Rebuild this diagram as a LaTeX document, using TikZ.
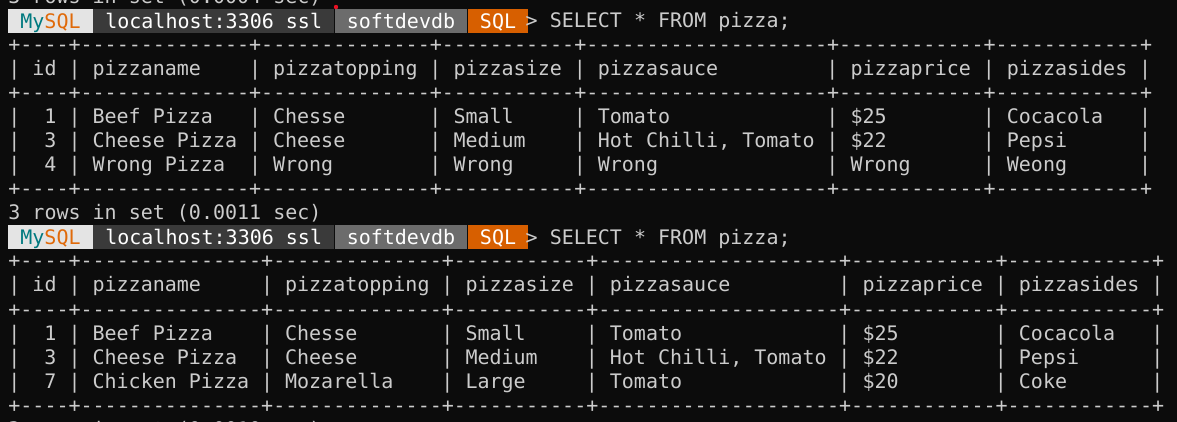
\documentclass[tikz,border=0pt]{standalone}
\usepackage{fontspec}
\setmonofont{DejaVu Sans Mono}
\usepackage{xcolor}
\usepackage{tikz}
\usetikzlibrary{positioning}
\definecolor{termbg}{HTML}{0C0C0C}
\definecolor{termfg}{HTML}{CCCCCC}
\definecolor{mysqlteal}{HTML}{00797F}
\definecolor{mysqlorange}{HTML}{E06A0A}
\definecolor{seglight}{HTML}{E4E4E4}
\definecolor{segdark}{HTML}{3A3A3A}
\definecolor{segmid}{HTML}{6C6C6C}
\definecolor{segorange}{HTML}{D75F00}
\definecolor{cursorred}{HTML}{E81123}
\newcommand{\dashrun}[1]{\foreach \i in {1,...,#1}{-}}

\begin{document}
\begin{tikzpicture}[
    x=0.5pt, y=-0.5pt,
    txt/.style={font=\ttfamily\fontsize{10pt}{12pt}\selectfont, text=termfg, inner sep=0pt, anchor=base west},
    seg/.style={font=\ttfamily\fontsize{10pt}{12pt}\selectfont, fill=#1, text=white, inner sep=0pt, text height=9.5pt, text depth=2.5pt, anchor=north west}
]
\useasboundingbox (0,0) rectangle (1177,422);
\clip (0,0) rectangle (1177,422);
\fill[termbg] (0,0) rectangle (1177,422);

% Previous result (cut off at the top)
\node[txt] (prevrows) at (8,4) {3 rows in set (0.0004 sec)};
\node[circle, fill=cursorred, inner sep=0pt, minimum size=2.2pt] (cursordot) at (336,7) {};

% First prompt
\node[seg=seglight, minimum width=42.1pt] (mysqlA) at (8,9) {{\color{mysqlteal}My}{\color{mysqlorange}SQL}};
\node[seg=segdark, minimum width=120.3pt, right=0pt of mysqlA] (hostA) {localhost:3306 ssl};
\node[seg=segmid, minimum width=66.17pt, right=0pt of hostA] (dbA) {softdevdb};
\node[seg=segorange, minimum width=30.08pt, right=0pt of dbA] (modeA) {SQL};
\node[txt] (queryA) at (525.3,28) {> SELECT * FROM pizza;};

% First table
\node[txt] (topA) at (8,52) {+\dashrun{4}+\dashrun{14}+\dashrun{14}+\dashrun{11}+\dashrun{20}+\dashrun{12}+\dashrun{12}+};
\node[txt] (midA) at (8,100) {+\dashrun{4}+\dashrun{14}+\dashrun{14}+\dashrun{11}+\dashrun{20}+\dashrun{12}+\dashrun{12}+};
\node[txt] (botA) at (8,196) {+\dashrun{4}+\dashrun{14}+\dashrun{14}+\dashrun{11}+\dashrun{20}+\dashrun{12}+\dashrun{12}+};
\foreach \c in {0,5,20,35,47,68,81,94}
  \foreach \l in {3,5,6,7}
    \node[txt] (barA-\l-\c) at ({8+\c*12.03},{4+24*\l}) {|};
\foreach \c/\t [count=\k] in {2/id,7/pizzaname,22/pizzatopping,37/pizzasize,49/pizzasauce,70/pizzaprice,83/pizzasides}
  \node[txt] (headA-\k) at ({8+\c*12.03},76) {\t};
\foreach \l/\id/\nm/\tp/\sz/\sc/\pr/\sd in {5/1/Beef Pizza/Chesse/Small/Tomato/\$25/Cocacola,
    {6/3/Cheese Pizza/Cheese/Medium/Hot Chilli, Tomato/\$22/Pepsi},
    7/4/Wrong Pizza/Wrong/Wrong/Wrong/Wrong/Weong} {
  \node[txt] (idA-\l) at ({8+3*12.03},{4+24*\l}) {\id};
  \node[txt] (nameA-\l) at ({8+7*12.03},{4+24*\l}) {\nm};
  \node[txt] (toppingA-\l) at ({8+22*12.03},{4+24*\l}) {\tp};
  \node[txt] (sizeA-\l) at ({8+37*12.03},{4+24*\l}) {\sz};
  \node[txt] (sauceA-\l) at ({8+49*12.03},{4+24*\l}) {\sc};
  \node[txt] (priceA-\l) at ({8+70*12.03},{4+24*\l}) {\pr};
  \node[txt] (sidesA-\l) at ({8+83*12.03},{4+24*\l}) {\sd};
}
\node[txt] (rowsA) at (8,220) {3 rows in set (0.0011 sec)};

% Second prompt
\node[seg=seglight, minimum width=42.1pt] (mysqlB) at (8,225) {{\color{mysqlteal}My}{\color{mysqlorange}SQL}};
\node[seg=segdark, minimum width=120.3pt, right=0pt of mysqlB] (hostB) {localhost:3306 ssl};
\node[seg=segmid, minimum width=66.17pt, right=0pt of hostB] (dbB) {softdevdb};
\node[seg=segorange, minimum width=30.08pt, right=0pt of dbB] (modeB) {SQL};
\node[txt] (queryB) at (525.3,244) {> SELECT * FROM pizza;};

% Second table
\node[txt] (topB) at (8,268) {+\dashrun{4}+\dashrun{15}+\dashrun{14}+\dashrun{11}+\dashrun{20}+\dashrun{12}+\dashrun{12}+};
\node[txt] (midB) at (8,316) {+\dashrun{4}+\dashrun{15}+\dashrun{14}+\dashrun{11}+\dashrun{20}+\dashrun{12}+\dashrun{12}+};
\node[txt] (botB) at (8,412) {+\dashrun{4}+\dashrun{15}+\dashrun{14}+\dashrun{11}+\dashrun{20}+\dashrun{12}+\dashrun{12}+};
\foreach \c in {0,5,21,36,48,69,82,95}
  \foreach \l in {12,14,15,16}
    \node[txt] (barB-\l-\c) at ({8+\c*12.03},{4+24*\l}) {|};
\foreach \c/\t [count=\k] in {2/id,7/pizzaname,23/pizzatopping,38/pizzasize,50/pizzasauce,71/pizzaprice,84/pizzasides}
  \node[txt] (headB-\k) at ({8+\c*12.03},292) {\t};
\foreach \l/\id/\nm/\tp/\sz/\sc/\pr/\sd in {14/1/Beef Pizza/Chesse/Small/Tomato/\$25/Cocacola,
    {15/3/Cheese Pizza/Cheese/Medium/Hot Chilli, Tomato/\$22/Pepsi},
    16/7/Chicken Pizza/Mozarella/Large/Tomato/\$20/Coke} {
  \node[txt] (idB-\l) at ({8+3*12.03},{4+24*\l}) {\id};
  \node[txt] (nameB-\l) at ({8+7*12.03},{4+24*\l}) {\nm};
  \node[txt] (toppingB-\l) at ({8+23*12.03},{4+24*\l}) {\tp};
  \node[txt] (sizeB-\l) at ({8+38*12.03},{4+24*\l}) {\sz};
  \node[txt] (sauceB-\l) at ({8+50*12.03},{4+24*\l}) {\sc};
  \node[txt] (priceB-\l) at ({8+71*12.03},{4+24*\l}) {\pr};
  \node[txt] (sidesB-\l) at ({8+84*12.03},{4+24*\l}) {\sd};
}
\node[txt] (rowsB) at (8,436) {3 rows in set (0.0010 sec)};

\end{tikzpicture}
\end{document}
